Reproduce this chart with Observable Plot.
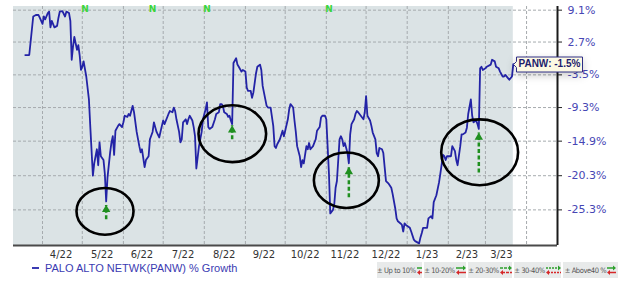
<!DOCTYPE html>
<html><head><meta charset="utf-8">
<script src="https://cdn.jsdelivr.net/npm/d3@7"></script>
<script src="https://cdn.jsdelivr.net/npm/@observablehq/plot@0.6"></script>
<style>
html,body{margin:0;padding:0;background:#fff;width:620px;height:283px;overflow:hidden;}
#chart svg{display:block;}
#legend{position:relative;height:21px;width:620px;}
#series{position:absolute;left:32px;top:0;line-height:14px;font:11px 'Liberation Sans',Arial,sans-serif;color:#3b3bb2;white-space:nowrap;}
.dash{display:inline-block;width:7px;height:2px;background:#3b3bb2;vertical-align:middle;margin-right:6px;position:relative;top:-1px;}
#bands{position:absolute;left:377px;top:0;height:16px;display:flex;gap:2px;}
.band{background:#e8eaea;height:16px;display:flex;align-items:center;justify-content:center;gap:1px;font:7.5px 'DejaVu Sans Condensed','DejaVu Sans',sans-serif;letter-spacing:-0.4px;color:#555;white-space:nowrap;overflow:hidden;}
.band svg{display:block;}
</style></head><body>
<div id="chart"></div>
<div id="legend">
  <div id="series"><span class="dash"></span><span id="seriesName"></span></div>
  <div id="bands"></div>
</div>
<script>
// ---------- data ----------
const seriesName = "PALO ALTO NETWK(PANW) % Growth";
const ticker = "PANW";
const dates = [
"2022-03-19","2022-03-22","2022-03-25","2022-03-27","2022-03-29","2022-03-30","2022-04-01","2022-04-02","2022-04-03","2022-04-05",
"2022-04-06","2022-04-07","2022-04-08","2022-04-10","2022-04-12","2022-04-13","2022-04-14","2022-04-16","2022-04-18","2022-04-19",
"2022-04-21","2022-04-22","2022-04-23","2022-04-24","2022-04-25","2022-04-27","2022-04-28","2022-04-29","2022-04-30","2022-05-01",
"2022-05-02","2022-05-04","2022-05-06","2022-05-07","2022-05-09","2022-05-10","2022-05-12","2022-05-13","2022-05-14","2022-05-15",
"2022-05-17","2022-05-18","2022-05-19","2022-05-20","2022-05-22","2022-05-23","2022-05-24","2022-05-25","2022-05-26","2022-05-28",
"2022-05-29","2022-05-31","2022-06-01","2022-06-02","2022-06-04","2022-06-05","2022-06-06","2022-06-08","2022-06-09","2022-06-11",
"2022-06-13","2022-06-14","2022-06-15","2022-06-17","2022-06-18","2022-06-20","2022-06-21","2022-06-23","2022-06-24","2022-06-26",
"2022-06-28","2022-06-30","2022-07-01","2022-07-02","2022-07-05","2022-07-06","2022-07-08","2022-07-09","2022-07-10","2022-07-11",
"2022-07-13","2022-07-14","2022-07-15","2022-07-16","2022-07-18","2022-07-19","2022-07-20","2022-07-21","2022-07-23","2022-07-24",
"2022-07-25","2022-07-26","2022-07-28","2022-07-30","2022-07-31","2022-08-02","2022-08-03","2022-08-04","2022-08-05","2022-08-07",
"2022-08-09","2022-08-10","2022-08-12","2022-08-13","2022-08-14","2022-08-15","2022-08-16","2022-08-18","2022-08-19","2022-08-20",
"2022-08-21","2022-08-22","2022-08-23","2022-08-25","2022-08-26","2022-08-27","2022-08-29","2022-08-30","2022-09-01","2022-09-02",
"2022-09-03","2022-09-05","2022-09-06","2022-09-07","2022-09-09","2022-09-10","2022-09-12","2022-09-13","2022-09-14","2022-09-15",
"2022-09-17","2022-09-18","2022-09-20","2022-09-22","2022-09-23","2022-09-24","2022-09-25","2022-09-27","2022-09-29","2022-09-30",
"2022-10-01","2022-10-03","2022-10-04","2022-10-05","2022-10-07","2022-10-08","2022-10-09","2022-10-10","2022-10-12","2022-10-13",
"2022-10-14","2022-10-15","2022-10-17","2022-10-18","2022-10-19","2022-10-20","2022-10-22","2022-10-24","2022-10-25","2022-10-27",
"2022-10-28","2022-10-29","2022-10-31","2022-11-01","2022-11-03","2022-11-04","2022-11-06","2022-11-07","2022-11-08","2022-11-09",
"2022-11-11","2022-11-12","2022-11-13","2022-11-14","2022-11-15","2022-11-17","2022-11-18","2022-11-19","2022-11-20","2022-11-22",
"2022-11-23","2022-11-24","2022-11-25","2022-11-26","2022-11-28","2022-11-29","2022-11-30","2022-12-01","2022-12-02","2022-12-04",
"2022-12-05","2022-12-06","2022-12-08","2022-12-09","2022-12-10","2022-12-11","2022-12-13","2022-12-14","2022-12-15","2022-12-16",
"2022-12-18","2022-12-20","2022-12-21","2022-12-23","2022-12-24","2022-12-25","2022-12-27","2022-12-28","2022-12-29","2022-12-30",
"2022-12-31","2023-01-03","2023-01-04","2023-01-06","2023-01-07","2023-01-08","2023-01-10","2023-01-11","2023-01-12","2023-01-13",
"2023-01-16","2023-01-17","2023-01-19","2023-01-20","2023-01-21","2023-01-23","2023-01-25","2023-01-26","2023-01-28","2023-01-29",
"2023-01-30","2023-01-31","2023-02-03","2023-02-04","2023-02-06","2023-02-07","2023-02-08","2023-02-10","2023-02-11","2023-02-12",
"2023-02-14","2023-02-15","2023-02-16","2023-02-18","2023-02-19","2023-02-20","2023-02-22","2023-02-23","2023-02-24","2023-02-25",
"2023-02-26","2023-02-27","2023-03-01","2023-03-02","2023-03-05","2023-03-06","2023-03-08","2023-03-09","2023-03-11","2023-03-12",
"2023-03-14","2023-03-15","2023-03-16","2023-03-18","2023-03-19","2023-03-21","2023-03-22"
];
const growth = [
0.2,0.2,7.8,8.1,8.1,7.5,6.3,7.8,7.2,8.5,
8.8,5.6,6.9,5.6,5.9,7.5,8.8,8.9,7.8,8.8,
8.5,6.9,-0.7,1.8,3.7,1.2,2.1,0.2,-2.6,-2.0,
-1.0,-3.8,-7.9,-12.4,-20.3,-18.4,-16.2,-18.7,-15.1,-17.3,
-17.9,-20.0,-24.1,-20.6,-16.7,-15.1,-14.1,-17.1,-13.2,-12.4,
-12.1,-12.6,-11.8,-10.7,-10.9,-10.4,-10.7,-9.0,-10.1,-13.4,
-15.7,-16.7,-16.2,-19.0,-17.9,-17.3,-14.6,-13.4,-11.8,-13.4,
-14.3,-12.4,-11.5,-12.1,-10.4,-9.9,-10.1,-9.3,-9.9,-11.3,
-13.4,-15.1,-14.6,-11.8,-11.3,-12.1,-11.3,-10.7,-11.5,-12.6,
-14.1,-19.2,-15.7,-13.4,-11.3,-9.6,-8.4,-12.6,-12.9,-12.6,
-11.3,-10.4,-10.1,-8.7,-8.7,-9.0,-10.1,-10.4,-10.9,-10.7,
-11.5,-12.1,-1.3,-0.4,-1.6,-2.0,-2.9,-2.6,-2.9,-5.8,
-6.4,-6.4,-7.6,-6.7,-3.2,-2.0,-1.6,-2.6,-5.5,-6.7,
-9.0,-9.3,-9.3,-12.4,-15.7,-16.0,-15.4,-14.6,-13.2,-14.1,
-13.2,-11.3,-9.6,-8.7,-9.3,-11.5,-13.4,-15.7,-17.3,-19.0,
-17.9,-18.4,-15.7,-16.2,-15.2,-16.2,-15.7,-14.6,-13.2,-12.6,
-11.0,-10.7,-10.7,-11.3,-20.0,-25.8,-25.3,-24.5,-22.1,-21.1,
-14.6,-14.1,-14.6,-15.7,-15.2,-16.8,-18.4,-13.8,-12.1,-11.3,
-10.4,-9.9,-10.1,-10.4,-11.0,-11.3,-10.1,-7.3,-10.7,-11.5,
-12.4,-13.5,-14.6,-16.8,-17.3,-16.0,-16.2,-16.8,-19.0,-21.1,
-21.5,-22.1,-23.0,-25.1,-26.5,-26.9,-27.2,-27.4,-28.3,-27.2,
-27.4,-27.8,-28.3,-29.4,-29.6,-29.7,-29.9,-29.1,-28.5,-27.8,
-27.8,-26.5,-26.2,-26.5,-24.2,-23.2,-21.3,-20.0,-17.1,-17.3,
-17.9,-17.3,-17.3,-15.7,-16.5,-17.9,-18.7,-15.7,-13.8,-13.8,
-13.5,-12.7,-10.4,-7.9,-10.7,-11.8,-11.5,-12.1,-12.9,-2.3,
-2.0,-2.6,-2.3,-2.0,-1.6,-0.7,-1.0,-2.0,-2.3,-2.9,
-3.8,-3.8,-3.5,-4.1,-4.4,-3.8,-1.5
];
const yTickValues = [9.1, 2.7, -3.5, -9.3, -14.9, -20.3, -25.3];
const yTickLabels = ["9.1%", "2.7%", "-3.5%", "-9.3%", "-14.9%", "-20.3%", "-25.3%"];
const xTickDates = ["2022-04-15","2022-05-16","2022-06-15","2022-07-16","2022-08-16","2022-09-15","2022-10-16","2022-11-15","2022-12-16","2023-01-16","2023-02-15","2023-03-13"];
const xTickLabels = ["4/22","5/22","6/22","7/22","8/22","9/22","10/22","11/22","12/22","1/23","2/23","3/23"];
const monthStarts = ["2022-04-01","2022-05-01","2022-06-01","2022-07-01","2022-08-01","2022-09-01","2022-10-01","2022-11-01","2022-12-01","2023-01-01","2023-02-01","2023-03-01","2023-04-01"];
const newsDates = ["2022-05-03","2022-06-23","2022-08-03","2022-11-03"];
// annotation ellipses (bounding box in data units)
const circleStart  = ["2022-04-27","2022-07-28","2022-10-23","2023-01-27"];
const circleEnd    = ["2022-06-09","2022-09-17","2022-12-11","2023-03-26"];
const circleTop    = [-22.2, -9.0, -16.8, -11.4];
const circleBottom = [-28.8, -18.3, -25.1, -21.8];
// green dashed up-arrows
const arrowDates  = ["2022-05-19","2022-08-22","2022-11-18","2023-02-24"];
const arrowTop    = [-24.6, -12.3, -19.0, -13.5];
const arrowBottom = [-26.6, -14.6, -23.5, -19.8];
const bandLabels = ["± Up to 10%", "± 10-20%", "± 20-30%", "± 30-40%", "± Above40 %"];

// ---------- build ----------
const parse = d3.utcParse("%Y-%m-%d");
const toY = g => 1 + g / 100;
const data = dates.map((d, i) => ({date: parse(d), g: growth[i]}));
const last = data[data.length - 1];
const xDomain = [new Date(Date.UTC(2022, 2, 10, 3)), new Date(Date.UTC(2023, 3, 24, 8))];
const yDomain = [0.6982, 1.0986];
const ellipses = circleStart.map((s, i) => ({x1: parse(s), x2: parse(circleEnd[i]), y1: toY(circleBottom[i]), y2: toY(circleTop[i])}));
const arrows = arrowDates.map((d, i) => ({date: parse(d), top: arrowTop[i], bottom: arrowBottom[i]}));
const xTicks = xTickDates.map((d, i) => ({date: parse(d), label: xTickLabels[i]}));
const yTicks = yTickValues.map((v, i) => ({y: toY(v), label: yTickLabels[i]}));
const green = "#1f8f1f";

const chart = Plot.plot({
  width: 620, height: 262,
  marginLeft: 13, marginRight: 63, marginTop: 6, marginBottom: 17,
  style: {fontFamily: "'DejaVu Sans', sans-serif", background: "transparent", overflow: "visible"},
  x: {type: "utc", domain: xDomain, axis: null},
  y: {type: "log", domain: yDomain},
  marks: [
    Plot.rect([{x1: xDomain[0], x2: last.date}], {x1: "x1", x2: "x2", fill: "#dbe3e5"}),
    Plot.gridY(yTicks.map(d => d.y), {stroke: "#a6abae", strokeOpacity: 1, strokeDasharray: "3,2"}),
    Plot.gridX(monthStarts.map(parse), {stroke: "#a6abae", strokeOpacity: 1, strokeDasharray: "3,2"}),
    Plot.line(data, {x: "date", y: d => toY(d.g), stroke: "#2323a6", strokeWidth: 1.8}),
    Plot.rect(ellipses, {
      x1: "x1", x2: "x2", y1: "y1", y2: "y2",
      render: (index, scales, values) => {
        const g = d3.create("svg:g");
        for (const i of index) {
          const xa = values.x1[i], xb = values.x2[i], ya = values.y1[i], yb = values.y2[i];
          g.append("ellipse")
            .attr("cx", (xa + xb) / 2).attr("cy", (ya + yb) / 2)
            .attr("rx", Math.abs(xb - xa) / 2).attr("ry", Math.abs(yb - ya) / 2)
            .attr("fill", "none").attr("stroke", "#000").attr("stroke-width", 2.6);
        }
        return g.node();
      }
    }),
    Plot.link(arrows, {x1: "date", x2: "date", y1: d => toY(d.bottom), y2: d => toY(d.top), stroke: green, strokeWidth: 2.5, strokeDasharray: "4,2.5"}),
    Plot.dot(arrows, {x: "date", y: d => toY(d.top), symbol: "triangle", r: 3.1, fill: green, stroke: "none", dy: 4.7}),
    Plot.text(newsDates.map(parse), {x: d => d, text: () => "N", frameAnchor: "top", dy: -1, fill: "#3bd63b", fontWeight: "bold", fontSize: 9}),
    Plot.ruleY([yDomain[0]], {stroke: "#4a4a4a", strokeWidth: 2}),
    Plot.ruleX([xDomain[1]], {stroke: "#1a1a1a", strokeWidth: 2}),
    // y axis: tick marks from the axis mark, labels as a text mark
    Plot.axisY(yTicks.map(d => d.y), {anchor: "right", tickSize: 4, stroke: "#222", fill: "none", label: null}),
    Plot.text(yTicks, {y: "y", text: "label", frameAnchor: "right", textAnchor: "start", dx: 10, fill: "#4646b4", fontSize: 11}),
    // x axis labels (mid-month)
    Plot.text(xTicks, {x: "date", text: "label", frameAnchor: "bottom", lineAnchor: "top", dy: 5, fill: "#333", fontSize: 10}),
    Plot.tip([last], {
      x: "date", y: d => toY(d.g),
      title: d => `${ticker}: ${d.g.toFixed(1)}%`,
      anchor: "left", pointerSize: 6, textPadding: 2,
      fill: "#fcf9e3", stroke: "#2e2e86",
      fontFamily: "'Liberation Sans', Arial, sans-serif", fontWeight: "bold", fontSize: 10,
      render: (i, s, v, d, c, next) => {
        const g = next(i, s, v, d, c);
        d3.select(g).selectAll("text, tspan").attr("fill", "#1c1c6c");
        return g;
      }
    })
  ]
});
document.getElementById("chart").appendChild(chart);

document.getElementById("seriesName").textContent = seriesName;
const bandWidths = [45, 42, 44, 47, 55];
const iconWidths = [8, 10, 12, 15, 9];
const iconDash = ["", "", "3,1", "2,1", ""];
const bands = document.getElementById("bands");
bandLabels.forEach((lab, i) => {
  const b = document.createElement("div");
  b.className = "band";
  b.style.width = bandWidths[i] + "px";
  const t = document.createElement("span");
  t.textContent = lab;
  b.appendChild(t);
  const w = iconWidths[i];
  const svg = d3.create("svg").attr("width", w).attr("height", 10);
  svg.append("line").attr("x1", 0).attr("x2", w - 2).attr("y1", 3).attr("y2", 3).attr("stroke", "#2ca02c").attr("stroke-width", 1.5).attr("stroke-dasharray", iconDash[i] || null);
  svg.append("path").attr("d", `M${w - 3},0.5L${w},3L${w - 3},5.5Z`).attr("fill", "#2ca02c");
  svg.append("line").attr("x1", 2).attr("x2", w).attr("y1", 7.5).attr("y2", 7.5).attr("stroke", "#d62728").attr("stroke-width", 1.5).attr("stroke-dasharray", iconDash[i] || null);
  svg.append("path").attr("d", `M3,5L0,7.5L3,10Z`).attr("fill", "#d62728");
  b.appendChild(svg.node());
  bands.appendChild(b);
});
</script>
</body></html>
